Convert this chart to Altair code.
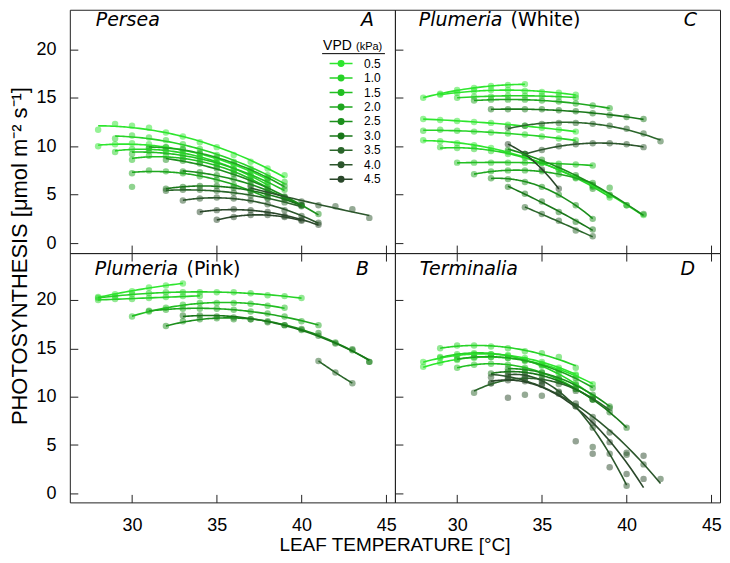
import altair as alt
import pandas as pd

VPD_LEVELS = ["0.5", "1.0", "1.5", "2.0", "2.5", "3.0", "3.5", "4.0", "4.5"]
VPD_COLORS = ["#2ee62e", "#27d327", "#22bf22", "#1fa71f", "#1c8f1c",
              "#197719", "#2b662b", "#2c562c", "#2a472a"]
X_TICKS = [30, 35, 40, 45]
Y_TICKS = [0, 5, 10, 15, 20]

# ---------------- Panel A: Persea ----------------
A_vpd = ["0.5", "0.5", "1.0", "1.0", "1.5", "1.5", "2.0", "2.0",
         "2.5", "2.5", "3.0", "3.5", "4.0", "4.0", "4.5", "4.5"]
A_start = [28, 28, 29, 29, 30, 30, 31, 30, 32, 33, 32, 32, 37, 33, 34, 35]
A_vals = [
    [11.7, 12.3, 12.1, 11.9, 11.4, 11.0, 10.4, 9.9, 9.1, 8.4, 7.7, 7.0],
    [10.0, 10.2, 10.3, 10.2, 9.9, 9.6, 9.2, 8.6, 8.0, 7.4, 6.7],
    [10.8, 11.1, 10.9, 10.6, 10.2, 9.7, 9.1, 8.4, 7.7, 7.0, 6.3],
    [9.4, 9.7, 9.8, 9.6, 9.3, 8.9, 8.3, 7.6, 6.9, 6.1],
    [9.2, 9.5, 9.4, 9.1, 8.7, 8.2, 7.6, 7.0, 6.3, 5.5],
    [8.6, 9.0, 9.0, 8.8, 8.4, 7.9, 7.3, 6.6, 5.8],
    [9.8, 9.9, 9.7, 9.3, 8.8, 8.2, 7.5, 6.7, 5.9],
    [7.2, 7.5, 7.4, 7.2, 6.9, 6.5, 6.0, 5.4, 4.7],
    [8.6, 8.5, 8.2, 7.7, 7.1, 6.4, 5.6, 4.8, 3.9, 3.0],
    [7.4, 7.3, 7.0, 6.6, 6.0, 5.4, 4.7, 3.9],
    [5.6, 5.8, 5.9, 5.9, 5.7, 5.4, 5.0, 4.5, 3.9],
    [5.4, 5.5, 5.5, 5.4, 5.2, 4.9, 4.6, 4.2, 3.8],
    [5.8, 5.2, 4.7, 4.3, 3.9, 3.8, 3.5, 2.6],
    [4.4, 4.6, 4.7, 4.6, 4.4, 4.0, 3.4, 2.8, 2.1],
    [3.2, 3.4, 3.5, 3.4, 3.2, 2.8, 2.4, 1.9],
    [2.4, 2.7, 2.9, 2.9, 2.7, 2.3],
]
A_extra_T = [30]
A_extra_P = [5.8]
A_extra_vpd = ["2.0"]

# ---------------- Panel C: Plumeria (White) ----------------
C_vpd = ["0.5", "0.5", "1.0", "2.0", "3.0", "0.5", "1.0", "0.5", "1.0",
         "3.5", "4.0", "1.5", "2.0", "2.5", "3.0", "3.5", "4.5", "2.5"]
C_start = [28, 29, 30, 31, 32, 28, 28, 28, 29, 33, 34, 30, 31, 32, 33, 34, 33, 33]
C_vals = [
    [15.0, 15.4, 15.8, 16.0, 16.2, 16.3, 16.4],
    [15.3, 15.5, 15.7, 15.8, 15.8, 15.7, 15.6, 15.5, 15.3],
    [15.0, 15.1, 15.1, 15.2, 15.2, 15.2, 15.1, 15.0],
    [14.7, 14.8, 14.8, 14.8, 14.7, 14.6, 14.4, 14.2, 13.9],
    [13.8, 13.8, 13.8, 13.8, 13.7, 13.6, 13.4, 13.2, 13.0, 12.8],
    [12.8, 12.7, 12.6, 12.5, 12.4, 12.2, 12.1, 11.9, 11.7, 11.5],
    [11.6, 11.7, 11.6, 11.5, 11.4, 11.3, 11.2, 11.0, 10.8, 10.6],
    [10.6, 10.5, 10.3, 10.1, 9.8, 9.4, 8.9, 8.3, 7.6, 6.8, 5.9, 4.9, 3.9, 2.9],
    [9.9, 9.8, 9.7, 9.5, 9.2, 8.8, 8.3, 7.6, 6.8, 5.8, 4.7],
    [11.9, 12.1, 12.3, 12.4, 12.4, 12.3, 12.1, 11.8, 11.3, 10.5],
    [9.2, 9.6, 10.0, 10.2, 10.3, 10.3, 10.2, 9.9],
    [8.3, 8.3, 8.3, 8.3, 8.3, 8.3, 8.2, 8.1, 8.0],
    [7.1, 7.4, 7.5, 7.5, 7.4, 7.1, 6.7, 6.2],
    [6.7, 6.6, 6.3, 5.8, 5.0, 3.9, 2.5],
    [5.8, 5.1, 4.3, 3.2, 2.2, 1.4],
    [3.7, 3.0, 2.3, 1.3, 0.7],
    [10.2, 9.2, 7.6, 5.6],
    [9.6, 9.2, 8.6, 7.9, 7.0, 6.0, 5.0, 3.9, 3.0],
]
C_extra_T = [38, 39]
C_extra_P = [5.6, 5.7]
C_extra_vpd = ["2.5", "2.0"]

# ---------------- Panel B: Plumeria (Pink) ----------------
B_vpd = ["0.5", "1.0", "1.0", "1.5", "2.0", "2.5", "3.0", "3.5"]
B_start = [28, 28, 28, 30, 31, 32, 33, 41]
B_vals = [
    [20.3, 20.6, 20.9, 21.3, 21.5, 21.7],
    [20.0, 20.1, 20.1, 20.2, 20.3, 20.4, 20.4],
    [20.2, 20.4, 20.6, 20.7, 20.8, 20.8, 20.8, 20.8, 20.8, 20.7, 20.5, 20.4, 20.2],
    [18.3, 18.8, 19.2, 19.5, 19.7, 19.7, 19.7, 19.6, 19.4, 19.2],
    [18.9, 19.0, 19.1, 19.1, 19.1, 19.0, 18.8, 18.6, 18.3, 17.8, 17.4],
    [17.3, 17.8, 18.0, 18.1, 18.0, 18.0, 17.8, 17.4, 16.9, 16.6, 15.6, 14.8, 13.6],
    [18.4, 18.4, 18.3, 18.2, 18.0, 17.7, 17.4, 17.0, 16.3, 15.5, 14.9, 13.6],
    [13.7, 12.5, 11.4],
]
B_extra_T = []
B_extra_P = []
B_extra_vpd = []

# ---------------- Panel D: Terminalia ----------------
D_vpd = ["0.5", "0.5", "1.0", "1.0", "1.5", "2.0", "3.5", "3.0",
         "4.0", "4.5", "4.0", "2.5"]
D_start = [28, 28, 29, 29, 30, 30, 31, 32, 32, 32, 33, 33]
D_vals = [
    [13.6, 14.0, 14.2, 14.4, 14.4, 14.3, 14.0, 13.6, 13.0, 12.3],
    [13.1, 13.5, 13.8, 14.0, 14.1, 14.0, 13.8, 13.4, 12.8, 12.2, 11.3],
    [15.0, 15.3, 15.3, 15.2, 15.0, 14.7, 14.5, 14.1, 13.0],
    [14.1, 14.4, 14.5, 14.4, 14.2, 13.8, 13.2, 12.4, 11.4, 10.0],
    [13.0, 13.3, 13.4, 13.3, 13.0, 12.5, 11.8, 10.8, 9.7],
    [13.9, 14.1, 14.1, 14.0, 13.7, 13.3, 12.7, 11.9, 10.9],
    [10.4, 11.4, 11.9, 12.0, 11.8, 11.3, 10.6, 9.7, 8.8],
    [12.4, 12.6, 12.5, 12.2, 11.6, 10.8, 9.7, 8.4, 6.8],
    [12.0, 12.1, 11.8, 11.3, 10.4, 9.3, 7.9, 6.3, 4.2, 3.0, 1.5],
    [11.4, 11.7, 11.6, 11.2, 10.3, 9.0, 7.3, 5.3, 2.0, 1.5],
    [12.3, 12.2, 11.6, 10.5, 9.0, 6.8, 4.1, 0.8],
    [12.9, 12.8, 12.5, 11.9, 11.2, 10.2, 9.0],
]
D_extra_T = [33, 34, 35, 37, 38, 38, 39, 40, 41]
D_extra_P = [9.9, 10.2, 10.1, 5.4, 4.8, 4.1, 2.7, 4.0, 3.9]
D_extra_vpd = ["4.5", "4.0", "4.0", "4.5", "4.0", "4.5", "4.5", "4.0", "4.5"]

Y_TITLE = "PHOTOSYNTHESIS [\u03bcmol m\u207b\u00b2 s\u207b\u00b9]"
X_TITLE = "LEAF TEMPERATURE [\u00b0C]"


def series_frame(key, vpds, starts, vals):
    rows = []
    for i, (v, s, vs) in enumerate(zip(vpds, starts, vals)):
        for j, p in enumerate(vs):
            rows.append({"sid": f"{key}{i}", "vpd": v, "T": s + j, "P": p})
    return pd.DataFrame(rows)


def extra_frame(ts, ps, vs):
    return pd.DataFrame({"T": ts, "P": ps, "vpd": vs})


W = 326
XDOM = [26.33, 45.51]
FONT = "Liberation Sans"
PATH = "M-2.3,0L2.3,0M0.55,0A0.55,0.55,0,1,1,-0.55,0A0.55,0.55,0,1,1,0.55,0Z"


def txt(text, x, y, italic=False, align="left", size=19, font="DejaVu Sans",
        angle=0, baseline="top"):
    return alt.Chart(pd.DataFrame({"t": [text]})).mark_text(
        align=align, baseline=baseline, font=font, fontSize=size, angle=angle,
        fontStyle="italic" if italic else "normal", color="black"
    ).encode(text="t:N", x=alt.value(x), y=alt.value(y))


def mk_axis(orient, values, labels, pad):
    return alt.Axis(orient=orient, values=values, labels=labels, ticks=True,
                    tickSize=8, offset=-8, domain=False, grid=False, title=None,
                    labelFontSize=18, labelPadding=pad, labelFont=FONT,
                    labelColor="black", labelOverlap=False, labelFlush=False,
                    labelBound=False, format="d", zindex=1)


def panel(sdf, edf, height, ydom, left, bottom, labels, legend=False):
    xs = alt.Scale(domain=XDOM, nice=False, zero=False)
    ys = alt.Scale(domain=ydom, nice=False, zero=False)
    xax = mk_axis("bottom", X_TICKS, bottom, 14)
    yax = mk_axis("left", Y_TICKS, left, 14)
    if legend:
        leg = alt.Legend(title=None, orient="none", legendX=266, legendY=48,
                         symbolType=PATH, symbolSize=100, symbolStrokeWidth=1.5,
                         symbolOpacity=1, labelFont=FONT, labelFontSize=12,
                         labelOffset=17, rowPadding=2.5, padding=0, labelColor="black")
    else:
        leg = None
    col = alt.Color("vpd:N", scale=alt.Scale(domain=VPD_LEVELS, range=VPD_COLORS),
                    legend=leg)
    pdata = pd.concat([sdf[["T", "P", "vpd"]], edf], ignore_index=True)
    pts = alt.Chart(pdata).mark_circle(size=42, opacity=0.5).encode(
        x=alt.X("T:Q", scale=xs, axis=xax), y=alt.Y("P:Q", scale=ys, axis=yax),
        color=col)
    top_ax = mk_axis("top", X_TICKS, False, 4) if bottom else xax
    lines = alt.Chart(sdf).transform_regression(
        "T", "P", groupby=["sid", "vpd"], method="poly", order=2
    ).mark_line(strokeWidth=1.6).encode(
        x=alt.X("T:Q", scale=xs, axis=top_ax), y=alt.Y("P:Q", scale=ys, axis=yax),
        color=col, detail="sid:N")
    layers = [pts, lines] + labels
    ch = alt.layer(*layers).properties(width=W, height=height)
    if bottom:
        ch = ch.resolve_axis(x="independent")
    return ch


dA = series_frame("A", A_vpd, A_start, A_vals)
dB = series_frame("B", B_vpd, B_start, B_vals)
dC = series_frame("C", C_vpd, C_start, C_vals)
dD = series_frame("D", D_vpd, D_start, D_vals)

legend_title = [
    txt("VPD", 254, 40, size=14, font=FONT, baseline="alphabetic"),
    txt("(kPa)", 287, 40, size=11, font=FONT, baseline="alphabetic"),
    alt.Chart(pd.DataFrame({"a": [0]})).mark_rule(color="black", strokeWidth=1).encode(
        x=alt.value(253), x2=alt.value(316), y=alt.value(44)),
]

pA = panel(dA, extra_frame(A_extra_T, A_extra_P, A_extra_vpd), 244, [-1.03, 24.07],
           True, False,
           [txt("Persea", 26, 1, italic=True), txt("A", 305, 1, italic=True, align="right"),
            txt(Y_TITLE, -50, 247, size=22, font=FONT, angle=270, align="center",
                baseline="middle")]
           + legend_title, legend=True)
pC = panel(dC, extra_frame(C_extra_T, C_extra_P, C_extra_vpd), 244, [-1.03, 24.07],
           False, False,
           [txt("Plumeria", 24, 1, italic=True), txt("(White)", 116, 1),
            txt("C", 303, 1, italic=True, align="right")])
pB = panel(dB, extra_frame(B_extra_T, B_extra_P, B_extra_vpd), 250, [-0.93, 24.85],
           True, True,
           [txt("Plumeria", 25, 7, italic=True), txt("(Pink)", 117, 7),
            txt("B", 300, 7, italic=True, align="right"),
            txt(X_TITLE, W, 303, size=19, font=FONT, align="center", baseline="bottom")])
pD = panel(dD, extra_frame(D_extra_T, D_extra_P, D_extra_vpd), 250, [-0.93, 24.85],
           False, True,
           [txt("Terminalia", 25, 7, italic=True),
            txt("D", 301, 7, italic=True, align="right")])

chart = alt.concat(pA, pC, pB, pD, columns=2, spacing=0, bounds="flush",
                   align="each").resolve_scale(
    color="independent"
).properties(
    padding={"left": 0, "top": 0, "right": 0, "bottom": 0},
).configure_view(stroke="#222222", strokeWidth=1).configure_axis(
    tickColor="#222222", labelColor="black", tickWidth=1
)

chart.save("out.html", embed_options={"renderer": "svg", "actions": False})
